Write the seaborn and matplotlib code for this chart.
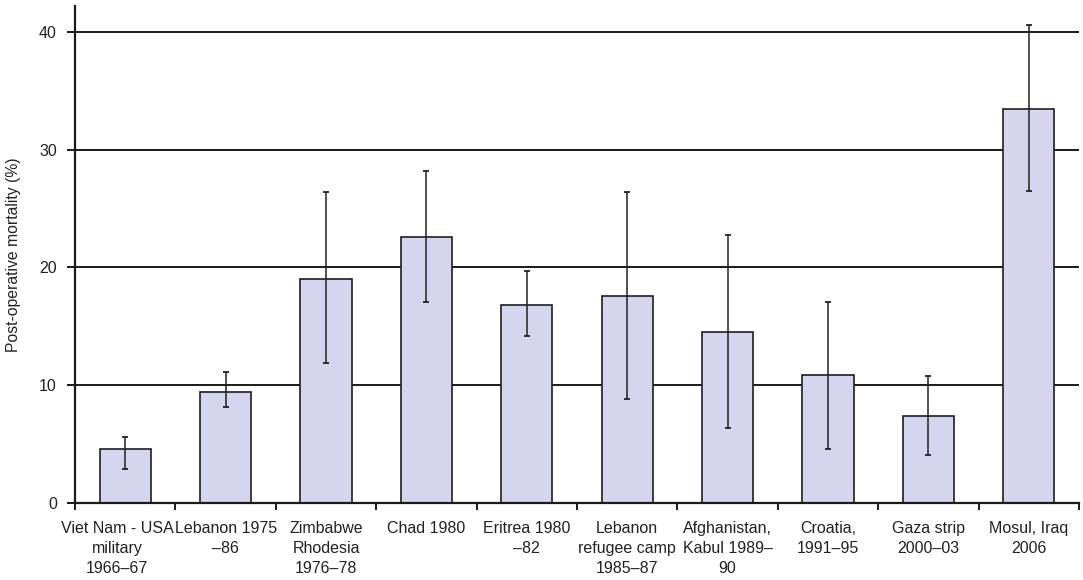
import numpy as np
import pandas as pd
import matplotlib
matplotlib.use("Agg")
import matplotlib.pyplot as plt
import matplotlib.transforms as mtransforms
import seaborn as sns

# Post-operative mortality by conflict setting, with confidence ranges
settings = [
    "Viet Nam - USA\nmilitary\n1966\u201367",
    "Lebanon 1975\n\u201386",
    "Zimbabwe\nRhodesia\n1976\u201378",
    "Chad 1980",
    "Eritrea 1980\n\u201382",
    "Lebanon\nrefugee camp\n1985\u201387",
    "Afghanistan,\nKabul 1989\u2013\n90",
    "Croatia,\n1991\u201395",
    "Gaza strip\n2000\u201303",
    "Mosul, Iraq\n2006",
]
mortality = [4.55, 9.45, 19.05, 22.6, 16.85, 17.55, 14.5, 10.85, 7.4, 33.45]
ci_low = [2.9, 8.15, 11.9, 17.05, 14.2, 8.8, 6.4, 4.6, 4.05, 26.5]
ci_high = [5.6, 11.1, 26.4, 28.2, 19.7, 26.4, 22.75, 17.1, 10.8, 40.6]
y_ticks = [0, 10, 20, 30, 40]

sns.set_theme(style="white")
plt.rcParams["font.family"] = ["Liberation Sans", "DejaVu Sans"]

fig = plt.figure(figsize=(10.83, 5.8), dpi=100)
ax = fig.add_axes([75 / 1083, 1 - 503 / 580, (1079 - 75) / 1083, (503 - 6) / 580])

df = pd.DataFrame({"setting": settings, "mortality": mortality})
sns.barplot(data=df, x="setting", y="mortality", color="#d5d5f0",
            saturation=1, edgecolor="#1e1e1e", linewidth=1.2, width=0.51,
            errorbar=None, ax=ax, zorder=2)

pos = np.arange(len(settings))
m = np.array(mortality)
yerr = np.vstack([m - np.array(ci_low), np.array(ci_high) - m])
ax.errorbar(pos, m, yerr=yerr, fmt="none", ecolor="#222222",
            elinewidth=1.1, capsize=2.5, capthick=1.3, zorder=4)

ax.set_xlim(-0.5, len(settings) - 0.5)
ax.set_ylim(0, 42.2)
ax.set_yticks(y_ticks)
ax.yaxis.grid(True, color="#1a1a1a", linewidth=1.4)
ax.xaxis.grid(False)
ax.set_axisbelow(True)

for side in ("top", "right"):
    ax.spines[side].set_visible(False)
for side in ("left", "bottom"):
    ax.spines[side].set_color("#1a1a1a")
    ax.spines[side].set_linewidth(1.6)

ax.set_xlabel("")
ax.set_ylabel("Post-operative mortality (%)", fontsize=11.3, color="#222222", labelpad=13)

ax.set_xticks(pos)
ax.set_xticklabels(settings, fontsize=11.5, color="#222222", linespacing=1.42)
ax.set_xticks(np.arange(-0.5, len(settings)), minor=True)
ax.tick_params(axis="x", which="major", length=0, pad=13)
ax.tick_params(axis="x", which="minor", direction="out", length=5, width=1.4,
               color="#1a1a1a", bottom=True)
ax.tick_params(axis="y", which="major", direction="out", length=6, width=1.4,
               color="#1a1a1a", labelsize=11.5, labelcolor="#222222", pad=7, left=True)

# nudge the first category label left so it clears its neighbour
first = ax.get_xticklabels()[0]
first.set_transform(first.get_transform() +
                    mtransforms.ScaledTranslation(-8 / 100, 0, fig.dpi_scale_trans))

fig.savefig("out.png", dpi=100, facecolor="white")
